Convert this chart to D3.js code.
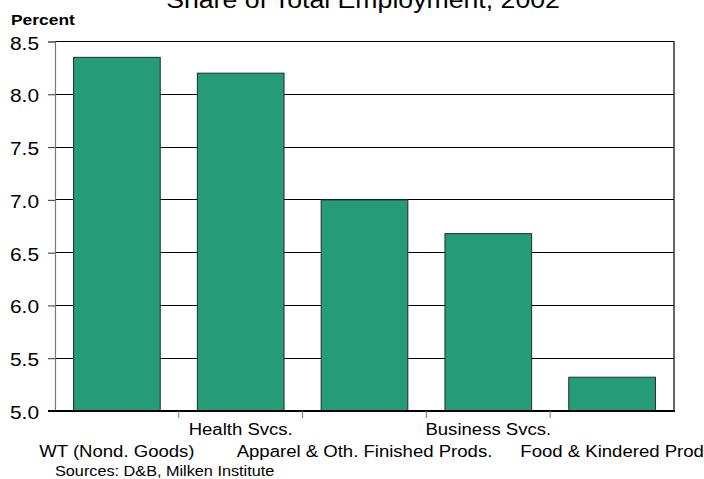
<!DOCTYPE html>
<html><head><meta charset="utf-8">
<script src="https://cdn.jsdelivr.net/npm/d3@7"></script>
<style>body{margin:0;background:#fff}svg{display:block}text{font-family:"Liberation Sans",Arial,sans-serif;fill:#000}</style>
</head><body>
<script>
const categories = ["WT (Nond. Goods)", "Health Svcs.", "Apparel & Oth. Finished Prods.", "Business Svcs.", "Food & Kindered Prod"];
const values = [8.35, 8.20, 7.00, 6.68, 5.32];
const yTicks = [5.0, 5.5, 6.0, 6.5, 7.0, 7.5, 8.0, 8.5];
const title = "Share of Total Employment, 2002";
const yLabel = "Percent";
const source = "Sources: D&B, Milken Institute";

const W = 704, H = 479, SX = 1.16;
const L = 55, R = 674, T = 41.5, B = 411;
const svg = d3.select("body").append("svg").attr("width", W).attr("height", H);

function txt(x, y, s, size, anchor, weight) {
  const g = svg.append("g").attr("transform", `translate(${x},${y})`);
  g.append("text").attr("transform", `scale(${SX},1)`).attr("text-anchor", anchor || "start")
    .attr("font-size", size).attr("font-weight", weight || "normal").text(s);
}

const x = d3.scaleBand().domain(categories).range([L, R]).paddingInner(0.3).paddingOuter(0.15);
const y = d3.scaleLinear().domain([5.0, 8.5]).range([B, T]);

// gridlines
svg.append("g").selectAll("line").data(yTicks.slice(1)).join("line")
  .attr("x1", L).attr("x2", R).attr("y1", d => y(d)).attr("y2", d => y(d))
  .attr("stroke", "#000").attr("stroke-width", 1).attr("shape-rendering", "crispEdges");

// bars
svg.append("g").selectAll("rect").data(values).join("rect")
  .attr("x", (d, i) => x(categories[i])).attr("width", x.bandwidth())
  .attr("y", d => y(d)).attr("height", d => y(5.0) - y(d))
  .attr("fill", "#269b78").attr("stroke", "#1c2e28").attr("stroke-width", 1);

// frame: right border
svg.append("line").attr("x1", R).attr("x2", R).attr("y1", T).attr("y2", B).attr("stroke", "#000").attr("stroke-width", 1.2);

// left axis
const yAxis = d3.axisLeft(y).tickValues(yTicks).tickSize(7).tickFormat(d3.format(".1f"));
const ga = svg.append("g").attr("transform", `translate(${L},0)`).call(yAxis);
ga.select(".domain").attr("stroke", "#777").attr("stroke-width", 1.2);
ga.selectAll(".tick line").attr("stroke", "#333");
ga.selectAll(".tick text").remove();
yTicks.forEach(t => txt(39, y(t) + 8, d3.format(".1f")(t), 18, "end"));

// bottom baseline
svg.append("line").attr("x1", L - 7).attr("x2", R + 1).attr("y1", B).attr("y2", B).attr("stroke", "#000").attr("stroke-width", 2);

// category ticks
const step = x.step();
const bounds = d3.range(1, categories.length).map(i => x(categories[i]) - x.paddingInner() * step / 2);
svg.append("g").selectAll("line").data(bounds).join("line")
  .attr("x1", d => d).attr("x2", d => d).attr("y1", B).attr("y2", B + 7).attr("stroke", "#777");

// category labels (staggered)
categories.forEach((c, i) => {
  const cx = x(c) + x.bandwidth() / 2;
  txt(cx, i % 2 === 0 ? 457 : 435, c, 16, "middle");
});

// title, y-label, source
txt(363, 8, title, 23, "middle");
txt(11, 25, yLabel, 15, "start", "bold");
txt(55, 476, source, 14, "start");
</script>
</body></html>
